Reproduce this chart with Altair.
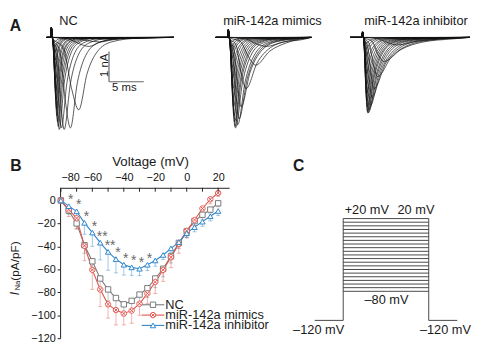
import altair as alt
import pandas as pd

FONT = "Liberation Sans"
M = 8  # page margin; chart coords = page coords - M

# ---------------- data ----------------
volts = list(range(-80, 25, 5))
series = ["NC", "miR-142a mimics", "miR-142a inhibitor"]
colors = ["#7a7a7a", "#e2544c", "#2f86cb"]

nc_vals = [0, -9, -20, -39, -53, -68, -77.5, -85, -90.5, -87.5, -82, -76.5, -68, -59.5, -48.5, -37, -27, -18, -12.5, -8, -2.5]
mim_vals = [0, -8, -15.5, -39.5, -60.5, -77.5, -90.5, -95.5, -98.5, -96, -90, -81, -71, -60.5, -49.5, -38, -26.5, -17, -7, 1, 6.5]
inh_vals = [0, -5, -9.5, -19.5, -28, -36.8, -44.8, -51.1, -56, -58.3, -59.5, -56, -52.3, -47.5, -41.8, -36.3, -28.5, -23.3, -18.5, -13.8, -9.2]
nc_err = [1, 3, 5, 7, 8, 9, 10, 10, 10, 10, 9, 8, 8, 7, 6, 5, 5, 4, 4, 3, 3]
mim_err = [1, 6, 9, 13, 17, 15, 12, 13, 10, 11, 10, 9, 10, 10, 9, 8, 6, 5, 5, 4, 3]
inh_err = [1, 4, 6, 10, 12, 15, 16, 12, 9, 7, 6, 5, 5, 4, 4, 4, 4, 4, 4, 4, 4]

star_volts = [-75, -70, -65, -60, -55, -50, -45, -40, -35, -30, -25]
star_labels = ["*", "*", "*", "*", "**", "**", "*", "*", "*", "*", "*"]

x_ticks_major = [-80, -60, -40, -20, 0, 20]
x_ticks_minor = [-80, -70, -60, -50, -40, -30, -20, -10, 0, 10, 20]
y_ticks = [0, -20, -40, -60, -80, -100, -120]

# Panel A traces (per step voltage): peak time (ms), peak amplitude (nA), half-decay (ms)
nc_tp = [9.0, 8.0, 7.0, 5.5, 4.0, 2.8, 1.9, 1.5, 1.2, 1.05, 0.95, 0.85, 0.8, 0.75, 0.7, 0.65, 0.6, 0.6, 0.55, 0.55, 0.5]
nc_amp = [0.02, 0.06, 0.15, 0.3, 2.4, 3.0, 3.05, 3.0, 3.05, 2.95, 2.8, 2.6, 2.35, 2.05, 1.75, 1.4, 1.05, 0.75, 0.5, 0.3, 0.15]
nc_h = [2.5, 2.3, 2.0, 1.6, 1.2, 1.0, 0.9, 0.8, 0.7, 0.65, 0.6, 0.55, 0.5, 0.5, 0.45, 0.45, 0.4, 0.4, 0.4, 0.4, 0.4]

mim_tp = [8.0, 7.0, 5.5, 4.0, 2.6, 1.9, 1.6, 1.4, 1.1, 1.0, 0.95, 0.85, 0.8, 0.75, 0.7, 0.65, 0.6, 0.55, 0.55, 0.5, 0.5]
mim_amp = [0.02, 0.08, 0.3, 0.92, 1.7, 2.3, 2.7, 2.9, 3.0, 2.95, 2.8, 2.6, 2.3, 2.0, 1.7, 1.35, 1.0, 0.7, 0.45, 0.3, 0.15]
mim_h = [3.0, 2.8, 2.5, 2.0, 1.6, 1.3, 1.2, 1.1, 1.0, 0.9, 0.85, 0.8, 0.75, 0.7, 0.65, 0.6, 0.6, 0.55, 0.55, 0.5, 0.5]

inh_tp = [8.0, 7.0, 5.0, 3.1, 2.2, 1.7, 1.4, 1.2, 1.0, 0.9, 0.8, 0.75, 0.7, 0.65, 0.62, 0.6, 0.58, 0.55, 0.52, 0.5, 0.5]
inh_amp = [0.02, 0.08, 0.25, 0.8, 1.3, 1.7, 2.0, 2.25, 2.4, 2.5, 2.5, 2.45, 2.3, 2.1, 1.85, 1.55, 1.2, 0.9, 0.6, 0.4, 0.2]
inh_h = [3.5, 3.2, 3.0, 2.5, 2.0, 1.7, 1.5, 1.3, 1.2, 1.1, 1.0, 0.95, 0.9, 0.85, 0.8, 0.75, 0.7, 0.7, 0.65, 0.6, 0.6]

# Panel C protocol
hold_v = -120
pre_t, step_t0, step_t1, post_t = -10, 0, 30, 40


# ---------------- helpers ----------------
def trace_df(tp_list, amp_list, h_list, pre, end, art):
    rows = []
    for V, tp, A, h in zip(volts, tp_list, amp_list, h_list):
        ts = [pre, -0.05, 0.06, 0.2, 0.45 * tp, 0.75 * tp, tp, tp + h, tp + 2.2 * h, tp + 4 * h, tp + 7 * h]
        Is = [0, 0, art, 0, -0.15 * A, -0.72 * A, -A, -0.5 * A, -0.2 * A, -0.06 * A, -0.012 * A]
        for t, I in zip(ts, Is):
            if t < end - 0.1:
                rows.append({"t": t, "I": I, "trace": V})
        rows.append({"t": end, "I": 0.0, "trace": V})
    return pd.DataFrame(rows)


PX_MS = 7.07
PX_NA = 30.7
BASE_Y = 35


def trace_panel(df, onset_px, with_bar=False):
    xs = alt.Scale(domain=[0, 10], range=[onset_px - M, onset_px - M + 10 * PX_MS], nice=False, zero=False)
    ys = alt.Scale(domain=[-3, 0], range=[BASE_Y - M + 3 * PX_NA, BASE_Y - M], nice=False, zero=False)
    lines = alt.Chart(df).mark_line(interpolate="monotone", strokeWidth=0.7, color="#111111").encode(
        x=alt.X("t:Q", scale=xs, axis=None),
        y=alt.Y("I:Q", scale=ys, axis=None),
        detail="trace:N",
    )
    layers = [lines]
    if with_bar:
        bar = pd.DataFrame({"t": [8.35, 8.35], "t2": [8.35, 13.35], "I": [-0.47, -1.47], "I2": [-1.47, -1.47]})
        layers.append(
            alt.Chart(bar).mark_rule(color="#666666", strokeWidth=1.2).encode(
                x=alt.X("t:Q", scale=xs, axis=None), x2="t2:Q",
                y=alt.Y("I:Q", scale=ys, axis=None), y2="I2:Q",
            )
        )
    return alt.layer(*layers)


def label(txt, x, y, size=13, bold=False, italic=False, angle=0, align="center", color="#1a1a1a"):
    kw = dict(text=txt, fontSize=size, font=FONT, align=align, baseline="middle", color=color)
    if bold:
        kw["fontWeight"] = "bold"
    if italic:
        kw["fontStyle"] = "italic"
    if angle:
        kw["angle"] = angle
    return alt.Chart(pd.DataFrame({"a": [0]})).mark_text(**kw).encode(
        x=alt.value(x - M), y=alt.value(y - M)
    )


# ---------------- panel A ----------------
A_nc = trace_panel(trace_df(nc_tp, nc_amp, nc_h, -0.62, 17.7, 0.32), 51.7, with_bar=True)
A_mim = trace_panel(trace_df(mim_tp, mim_amp, mim_h, -1.75, 12.0, 0.25), 231.7)
A_inh = trace_panel(trace_df(inh_tp, inh_amp, inh_h, -1.75, 15.5, 0.18), 368.3)

# ---------------- panel B ----------------
vals = [nc_vals, mim_vals, inh_vals]
errs = [nc_err, mim_err, inh_err]
b_rows = []
for s, vv, ee in zip(series, vals, errs):
    for v, y, e in zip(volts, vv, ee):
        b_rows.append({"volt": v, "val": y, "lo": y - e, "series": s})
b_df = pd.DataFrame(b_rows)

inh_lookup = dict(zip(volts, inh_vals))
star_df = pd.DataFrame({"volt": star_volts, "val": [inh_lookup[v] for v in star_volts], "lab": star_labels})
tick_df = pd.DataFrame({"volt": x_ticks_minor})

xsB = alt.Scale(domain=[-80.5, 27], range=[61 - M, 233 - M], nice=False, zero=False)
ysB = alt.Scale(domain=[-120, 11], range=[341 - M, 188 - M], nice=False, zero=False)
xaxB = alt.Axis(orient="top", offset=-(188 - M), values=x_ticks_major, ticks=False, grid=False, title=None,
                labelFontSize=11, labelPadding=5, labelFont=FONT, labelColor="#111", domainColor="#222")
yaxB = alt.Axis(orient="left", offset=-(61 - M), values=y_ticks, tickSize=3, grid=False, title=None,
                labelFontSize=11, labelPadding=2, labelFont=FONT, labelColor="#111", domainColor="#222",
                tickColor="#222")
XB = alt.X("volt:Q", scale=xsB, axis=xaxB)
YB = alt.Y("val:Q", scale=ysB, axis=yaxB)
col = alt.Color("series:N", scale=alt.Scale(domain=series, range=colors), legend=None)
strk = alt.Stroke("series:N", scale=alt.Scale(domain=series, range=colors), legend=None)
circ_x = "M1,0A1,1 0 1,1 -1,0A1,1 0 1,1 1,0Z M-0.7,-0.7L0.7,0.7M-0.7,0.7L0.7,-0.7"
shp = alt.Shape("series:N", scale=alt.Scale(domain=series, range=["square", circ_x, "triangle-up"]), legend=None)

errbars = alt.Chart(b_df).mark_rule(strokeWidth=1, opacity=0.45).encode(x=XB, y=YB, y2="lo:Q", color=col)
caps = alt.Chart(b_df).mark_tick(orient="horizontal", size=4, thickness=1, opacity=0.45).encode(
    x=XB, y=alt.Y("lo:Q", scale=ysB, axis=yaxB), color=col)
lines = alt.Chart(b_df).mark_line(strokeWidth=1.1).encode(x=XB, y=YB, color=col, order="volt:Q")
points = alt.Chart(b_df).mark_point(filled=True, fill="white", strokeWidth=1, size=30, opacity=1).encode(
    x=XB, y=YB, stroke=strk, shape=shp)
stars = alt.Chart(star_df).mark_text(fontSize=14, font=FONT, color="#6a6a6a", dy=-6, dx=2, baseline="middle").encode(
    x=XB, y=YB, text="lab:N")
xticks = alt.Chart(tick_df).mark_rule(color="#222", strokeWidth=1).encode(
    x=XB, y=alt.value(188 - M), y2=alt.value(192 - M))
B = alt.layer(errbars, caps, lines, points, stars, xticks)

# legend of B
leg_df = pd.DataFrame({"series": series, "row": [0, 1, 2]})
RY = alt.Y("row:Q", scale=alt.Scale(domain=[0, 2], range=[307 - M, 328 - M], nice=False, zero=False), axis=None)
leg_line = alt.Chart(leg_df).mark_rule(strokeWidth=1.1).encode(
    x=alt.value(144 - M), x2=alt.value(167 - M), y=RY, color=col)
leg_pt = alt.Chart(leg_df).mark_point(filled=True, fill="white", strokeWidth=1, size=30, opacity=1).encode(
    x=alt.value(155.5 - M), y=RY, stroke=strk, shape=shp)
leg_txt = alt.Chart(leg_df).mark_text(align="left", baseline="middle", fontSize=13, font=FONT, color="#222").encode(
    x=alt.value(168 - M), y=RY, text="series:N")
LEG = alt.layer(leg_line, leg_pt, leg_txt)

# ---------------- panel C ----------------
c_rows = [
    {"t0": pre_t, "t1": step_t0, "v0": hold_v, "v1": hold_v},
    {"t0": step_t1, "t1": post_t, "v0": hold_v, "v1": hold_v},
    {"t0": step_t0, "t1": step_t0, "v0": hold_v, "v1": max(volts)},
    {"t0": step_t1, "t1": step_t1, "v0": hold_v, "v1": max(volts)},
]
for v in volts:
    c_rows.append({"t0": step_t0, "t1": step_t1, "v0": v, "v1": v})
c_df = pd.DataFrame(c_rows)
xsC = alt.Scale(domain=[pre_t, post_t], range=[320 - M, 465 - M], nice=False, zero=False)
ysC = alt.Scale(domain=[-120, 20], range=[322.9 - M, 219.3 - M], nice=False, zero=False)
C = alt.Chart(c_df).mark_rule(color="#333333", strokeWidth=0.9).encode(
    x=alt.X("t0:Q", scale=xsC, axis=None), x2="t1:Q",
    y=alt.Y("v0:Q", scale=ysC, axis=None), y2="v1:Q",
)

# ---------------- text labels ----------------
labels = [
    label("A", 15.5, 23, size=16, bold=True),
    label("NC", 69.5, 18.5),
    label("miR-142a mimics", 277, 18.5),
    label("miR-142a inhibitor", 423, 18.5),
    label("1 nA", 106.5, 63.5, size=11.5, angle=270),
    label("5 ms", 126.3, 86.5, size=11.5),
    label("B", 16, 165.5, size=16, bold=True),
    label("Voltage (mV)", 153, 161.5, size=13.5),
    label("I", 15.5, 295.5, size=12.5, italic=True, angle=270),
    label("Na", 18.5, 287.5, size=8, angle=270),
    label("(pA/pF)", 15.5, 262.5, size=12, angle=270),
    label("C", 303.7, 165.7, size=16, bold=True),
    label("+20 mV", 373, 210.5, size=13),
    label("20 mV", 423, 210.5, size=13),
    label("\u201380 mV", 393, 302.7, size=13),
    label("\u2013120 mV", 324, 332.7, size=13),
    label("\u2013120 mV", 427, 332.7, size=13, align="left"),
]

chart = alt.layer(A_nc, A_mim, A_inh, B, LEG, C, *labels).resolve_scale(
    x="independent", y="independent", color="independent", stroke="independent", shape="independent"
).properties(
    width=471, height=336, autosize=alt.AutoSizeParams(type="none"), padding=0
).configure_view(stroke=None)

chart.save("out.html", embed_options={"renderer": "svg", "actions": False})
